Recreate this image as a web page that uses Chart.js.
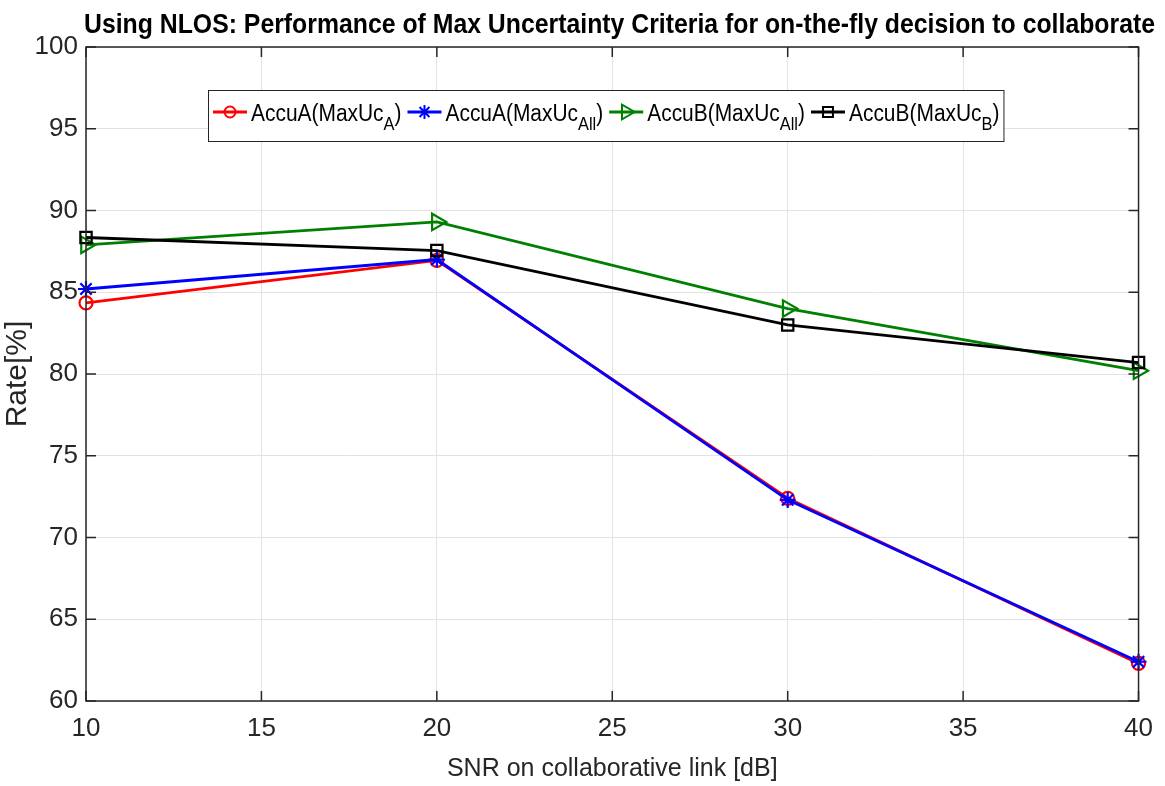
<!DOCTYPE html>
<html>
<head>
<meta charset="utf-8">
<script src="https://cdn.jsdelivr.net/npm/chart.js@4/dist/chart.umd.min.js"></script>
<style>
  html, body { margin: 0; padding: 0; background: #fff; }
  canvas { display: block; }
</style>
</head>
<body>
<canvas id="chart" width="1165" height="786"></canvas>
<script>
/* Data */
var snr = [10, 20, 30, 40];
var accuA_ucA = [84.35, 86.95, 72.4, 62.3];
var accuA_ucAll = [85.2, 87.0, 72.3, 62.4];
var accuB_ucAll = [87.9, 89.3, 84.0, 80.2];
var accuB_ucB = [88.35, 87.55, 83.0, 80.7];
var xTicks = [10, 15, 20, 25, 30, 35, 40];
var yTicks = [60, 65, 70, 75, 80, 85, 90, 95, 100];

var titleText = "Using NLOS: Performance of Max Uncertainty Criteria for on-the-fly decision to collaborate";
var legendItems = [
	{ main: "AccuA(MaxUc", sub: "A", color: "#ff0000", style: "circle", rot: 0, r: 6.5 },
	{ main: "AccuA(MaxUc", sub: "All", color: "#0000ff", style: "star", rot: 0, r: 8 },
	{ main: "AccuB(MaxUc", sub: "All", color: "#008000", style: "triangle", rot: 90, r: 9.5 },
	{ main: "AccuB(MaxUc", sub: "B", color: "#000000", style: "rect", rot: 0, r: 8 }
];

var FONT = "'Liberation Sans', Arial, sans-serif";
var AXIS = "#262626";

function series(values) {
	return values.map(function (v, i) { return { x: snr[i], y: v }; });
}

function makeSet(item, values, order) {
	return {
		label: item.main + item.sub + ")",
		data: series(values),
		borderColor: item.color,
		backgroundColor: "rgba(0,0,0,0)",
		borderWidth: 2.8,
		pointStyle: item.style,
		rotation: item.rot,
		pointRadius: item.r,
		pointBorderColor: item.color,
		pointBorderWidth: 2.2,
		pointBackgroundColor: "rgba(0,0,0,0)",
		tension: 0,
		clip: false,
		order: order
	};
}

// text squeezed horizontally (no narrow font installed)
function narrowText(ctx, text, x, y, sx) {
	ctx.save();
	ctx.translate(x, y);
	ctx.scale(sx, 1);
	ctx.fillText(text, 0, 0);
	ctx.restore();
	return ctx.measureText(text).width * sx;
}

/* Box, inward ticks, title and legend */
var decor = {
	id: "decor",
	afterDatasetsDraw: function (chart) {
		var ctx = chart.ctx;
		var a = chart.chartArea;
		var xs = chart.scales.x, ys = chart.scales.y;
		ctx.save();
		ctx.strokeStyle = AXIS;
		ctx.lineWidth = 1.5;
		ctx.beginPath();
		xTicks.forEach(function (t) {
			var px = xs.getPixelForValue(t);
			ctx.moveTo(px, a.bottom); ctx.lineTo(px, a.bottom - 10);
			ctx.moveTo(px, a.top); ctx.lineTo(px, a.top + 10);
		});
		yTicks.forEach(function (t) {
			var py = ys.getPixelForValue(t);
			ctx.moveTo(a.left, py); ctx.lineTo(a.left + 10, py);
			ctx.moveTo(a.right, py); ctx.lineTo(a.right - 10, py);
		});
		ctx.stroke();
		ctx.strokeRect(a.left, a.top, a.right - a.left, a.bottom - a.top);

		// title
		ctx.fillStyle = "#000";
		ctx.font = "bold 28px " + FONT;
		ctx.textAlign = "left";
		ctx.textBaseline = "alphabetic";
		var tw = ctx.measureText(titleText).width;
		narrowText(ctx, titleText, 84, 33, 1071 / tw);

		// legend
		var bx = 208, by = 90, bh = 51;
		var cy = by + 22;
		var sx = 0.91;
		var mainFont = "23px " + FONT, subFont = "18px " + FONT;
		var parts = [];
		var x = bx + 5;
		legendItems.forEach(function (it) {
			parts.push({ it: it, x: x });
			x += 37;
			ctx.font = mainFont;
			x += ctx.measureText(it.main).width * sx;
			ctx.font = subFont;
			x += ctx.measureText(it.sub).width * sx;
			ctx.font = mainFont;
			x += ctx.measureText(")").width * sx + 7;
		});
		var bw = x - bx - 2;
		ctx.fillStyle = "#fff";
		ctx.fillRect(bx, by, bw, bh);
		ctx.strokeStyle = AXIS;
		ctx.lineWidth = 1;
		ctx.strokeRect(bx + 0.5, by + 0.5, bw, bh);
		parts.forEach(function (p) {
			var it = p.it;
			ctx.strokeStyle = it.color;
			ctx.lineWidth = 2.8;
			ctx.beginPath();
			ctx.moveTo(p.x, cy); ctx.lineTo(p.x + 34, cy);
			ctx.stroke();
			ctx.lineWidth = 2;
			ctx.fillStyle = "rgba(0,0,0,0)";
			Chart.helpers.drawPoint(ctx, { pointStyle: it.style, rotation: it.rot, radius: it.r - 1, borderWidth: 2 }, p.x + 17, cy);
			var tx = p.x + 38;
			ctx.fillStyle = "#000";
			ctx.textAlign = "left";
			ctx.textBaseline = "alphabetic";
			ctx.font = mainFont;
			tx += narrowText(ctx, it.main, tx, cy + 9, sx);
			ctx.font = subFont;
			tx += narrowText(ctx, it.sub, tx, cy + 18, sx);
			ctx.font = mainFont;
			narrowText(ctx, ")", tx, cy + 9, sx);
		});
		ctx.restore();
	}
};

var chart = new Chart(document.getElementById("chart"), {
	type: "line",
	data: {
		datasets: [
			makeSet(legendItems[0], accuA_ucA, 4),
			makeSet(legendItems[1], accuA_ucAll, 3),
			makeSet(legendItems[2], accuB_ucAll, 2),
			makeSet(legendItems[3], accuB_ucB, 1)
		]
	},
	options: {
		responsive: false,
		animation: false,
		devicePixelRatio: 1,
		layout: { padding: { top: 47, right: 16, left: 0, bottom: 0 } },
		plugins: {
			legend: { display: false },
			title: { display: false },
			tooltip: { enabled: false }
		},
		scales: {
			x: {
				type: "linear",
				min: 10,
				max: 40,
				afterBuildTicks: function (s) { s.ticks = xTicks.map(function (v) { return { value: v }; }); },
				afterFit: function (s) { s.height = 85; },
				grid: { color: "#e3e3e3", lineWidth: 1, drawTicks: false },
				border: { display: false },
				ticks: { color: AXIS, font: { family: FONT, size: 26 }, padding: 12, maxRotation: 0 },
				title: { display: true, text: "SNR on collaborative link [dB]", color: AXIS, font: { family: FONT, size: 25 }, padding: { top: 0, bottom: 2 } }
			},
			y: {
				min: 60,
				max: 100,
				afterBuildTicks: function (s) { s.ticks = yTicks.map(function (v) { return { value: v }; }); },
				afterFit: function (s) { s.width = 86; },
				grid: { color: "#e3e3e3", lineWidth: 1, drawTicks: false },
				border: { display: false },
				ticks: { color: AXIS, font: { family: FONT, size: 26 }, padding: 8 },
				title: { display: true, text: "Rate[%]", color: AXIS, font: { family: FONT, size: 30 }, padding: { top: 0, bottom: 0 } }
			}
		}
	},
	plugins: [decor]
});
</script>
</body>
</html>
